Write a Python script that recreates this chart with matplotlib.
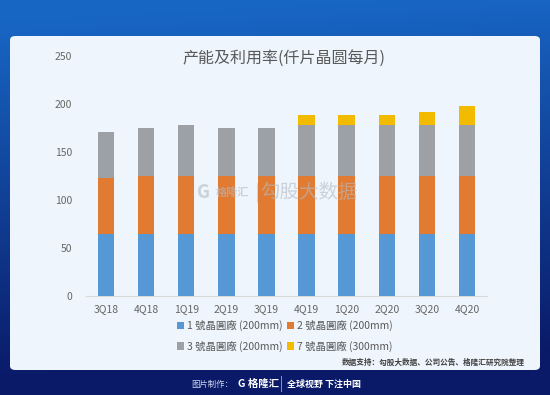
import numpy as np
import matplotlib
matplotlib.use("Agg")
import matplotlib.pyplot as plt
from matplotlib.patches import FancyBboxPatch, Rectangle

plt.rcParams['font.family'] = ['Noto Sans CJK SC', 'DejaVu Sans']

categories = ["3Q18", "4Q18", "1Q19", "2Q19", "3Q19", "4Q19", "1Q20", "2Q20", "3Q20", "4Q20"]
fab1 = [65, 65, 65, 65, 65, 65, 65, 65, 65, 65]
fab2 = [58, 60, 60, 60, 60, 60, 60, 60, 60, 60]
fab3 = [48, 49.5, 53, 49.5, 49.5, 53, 53, 53, 53, 53]
fab7 = [0, 0, 0, 0, 0, 10, 10, 10, 13.5, 19.5]
series_names = ["1 號晶圓廠 (200mm)", "2 號晶圓廠 (200mm)", "3 號晶圓廠 (200mm)", "7 號晶圓廠 (300mm)"]
colors = ["#5698d6", "#e27b32", "#9da1a5", "#f2bb00"]
title = "产能及利用率(仟片晶圆每月)"
source = "数据支持：勾股大数据、公司公告、格隆汇研究院整理"

W, H = 550, 395
fig = plt.figure(figsize=(W / 100, H / 100), dpi=100)

# background gradient
bg = fig.add_axes([0, 0, 1, 1], zorder=-10)
bg.set_axis_off()
yy = np.linspace(0, 1, 200)[:, None]
xx = np.linspace(0, 1, 200)[None, :]
top = np.array([0x18, 0x66, 0xc4]) / 255
bot = np.array([0x0a, 0x1a, 0x68]) / 255
t = np.clip(yy * 1.1 - 0.02 + 0.08 * (xx - 0.5), 0, 1)
img = top[None, None, :] * (1 - t[..., None]) + bot[None, None, :] * t[..., None]
bg.imshow(img, extent=[0, 1, 0, 1], aspect='auto', origin='upper')
bg.set_xlim(0, 1)
bg.set_ylim(0, 1)

# panel
panel = FancyBboxPatch((10 / W, 1 - 370 / H), 530 / W, 334 / H,
                       boxstyle="round,pad=0,rounding_size=0.01",
                       transform=fig.transFigure, facecolor="#eef5fc",
                       edgecolor="none", zorder=-5)
fig.patches.append(panel)

ax = fig.add_axes([86 / W, 1 - 296 / H, 401 / W, (296 - 55.7) / H])
ax.set_facecolor("none")
x = np.arange(len(categories))
bottoms = np.zeros(len(categories))
handles = []
for vals, c, name in zip([fab1, fab2, fab3, fab7], colors, series_names):
    b = ax.bar(x, vals, width=0.41, bottom=bottoms, color=c, label=name, zorder=3)
    handles.append(b)
    bottoms = bottoms + np.array(vals)

ax.set_xlim(-0.5, len(categories) - 0.5)
ax.set_ylim(0, 250)
ax.set_yticks(range(0, 251, 50))
ax.set_xticks(x)
ax.set_xticklabels(categories)
ax.tick_params(axis='both', length=0, labelsize=7.5, colors="#666666")
ax.tick_params(axis='x', pad=6)
ax.tick_params(axis='y', pad=10)
for s in ["top", "right", "left"]:
    ax.spines[s].set_visible(False)
ax.spines["bottom"].set_color("#d9d9d9")

# watermark
wm = "#b4b9c0"
fig.text(309 / W, 1 - 193 / H, "勾股大数据", fontsize=14, color=wm, alpha=0.6,
         ha="center", va="center", zorder=10)
fig.text(204 / W, 1 - 193 / H, "G", fontsize=13, color=wm, alpha=0.6,
         ha="center", va="center", fontweight="bold", zorder=10)
fig.text(232 / W, 1 - 192 / H, "格隆汇", fontsize=8, color=wm, alpha=0.6,
         ha="center", va="center", fontweight="bold", zorder=10)
fig.add_artist(Rectangle((257 / W, 1 - 203 / H), 0.8 / W, 20 / H, transform=fig.transFigure,
                         facecolor=wm, alpha=0.5, edgecolor="none", zorder=10))

fig.text(284 / W, 1 - 58 / H, title, fontsize=11.5, color="#595959", ha="center", va="center")

order = [0, 2, 1, 3]
leg = fig.legend(handles=[handles[i] for i in order], labels=[series_names[i] for i in order],
                 loc="center", bbox_to_anchor=(285 / W, 1 - 336 / H), ncol=2, frameon=False,
                 fontsize=7.5, handlelength=0.7, handleheight=0.7, handletextpad=0.3,
                 columnspacing=0.4, labelspacing=0.9, labelcolor="#595959")

fig.text(525 / W, 1 - 362 / H, source, fontsize=5.5, color="#404040", fontweight="bold",
         ha="right", va="center")

# footer
fig.text(233 / W, 1 - 384 / H, "图片制作：", fontsize=6, color="#d0d8ec", ha="right", va="center")
fig.text(238 / W, 1 - 384 / H, "G 格隆汇", fontsize=7.5, color="white", fontweight="bold",
         ha="left", va="center")
fig.add_artist(Rectangle((281 / W, 1 - 392 / H), 0.8 / W, 16 / H, transform=fig.transFigure,
                         facecolor="#8090c0", edgecolor="none"))
fig.text(287 / W, 1 - 384 / H, "全球视野 下注中国", fontsize=6.5, color="white",
         fontweight="bold", ha="left", va="center")

fig.savefig("out.png", dpi=100)
